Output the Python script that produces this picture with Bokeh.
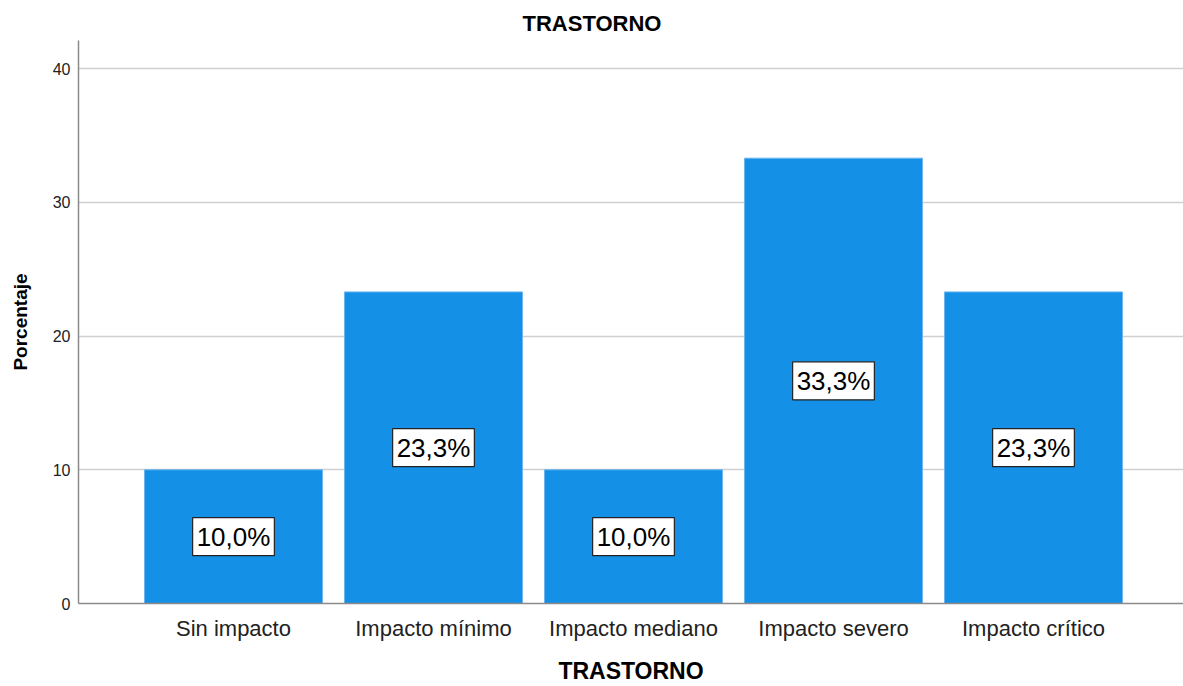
from bokeh.plotting import figure
from bokeh.models import ColumnDataSource, Label, FixedTicker
from bokeh.embed import file_html
from bokeh.resources import INLINE

categories = ["Sin impacto", "Impacto mínimo", "Impacto mediano", "Impacto severo", "Impacto crítico"]
percentages = [10.0, 23.3, 10.0, 33.3, 23.3]
y_ticks = [0, 10, 20, 30, 40]

FONT = "Liberation Sans"
BAR_COLOR = "#1490e6"

xs = list(range(1, len(categories) + 1))
src = ColumnDataSource(dict(x=xs, top=percentages))

p = figure(width=1183, height=686, output_backend="svg", toolbar_location=None,
           x_range=(0.225, 5.75), y_range=(0, 42.1),
           min_border_left=78, min_border_right=0, min_border_top=40, min_border_bottom=82,
           title="TRASTORNO")

# title centred on the whole canvas rather than on the plot frame
p.title.text_font = FONT
p.title.text_font_style = "bold"
p.title.text_font_size = "22px"
p.title.align = "left"
p.title.offset = 444
p.title.standoff = 10
p.title.text_color = "#000000"

p.vbar(x="x", top="top", width=0.89, bottom=0, source=src,
       fill_color=BAR_COLOR, line_color="#6cb6ef", line_width=1)

# boxed value labels in the middle of each bar
for x, v in zip(xs, percentages):
    p.add_layout(Label(x=x, y=v / 2, text=f"{v:.1f}".replace(".", ",") + "%",
                       text_align="center", text_baseline="middle",
                       text_font=FONT, text_font_size="26px", text_color="#000000",
                       background_fill_color="white",
                       border_line_color="#222222", border_line_width=1.2,
                       padding=4))

p.outline_line_color = None
p.background_fill_color = "white"
p.border_fill_color = "white"

p.xgrid.grid_line_color = None
p.ygrid.grid_line_color = "#d0d0d0"
p.ygrid.grid_line_width = 1.5
p.ygrid.ticker = FixedTicker(ticks=y_ticks)

p.yaxis.ticker = FixedTicker(ticks=y_ticks)
p.xaxis.ticker = FixedTicker(ticks=xs)
p.xaxis.major_label_overrides = {x: c for x, c in zip(xs, categories)}

for ax in (p.xaxis[0], p.yaxis[0]):
    ax.axis_line_color = "#8a8a8a"
    ax.axis_line_width = 1.5
    ax.major_tick_line_color = None
    ax.minor_tick_line_color = None
    ax.major_tick_out = 0
    ax.major_tick_in = 0
    ax.major_label_text_font = FONT
    ax.major_label_text_color = "#222222"
    ax.axis_label_text_font = FONT
    ax.axis_label_text_font_style = "bold"
    ax.axis_label_text_color = "#000000"

p.xaxis.major_label_text_font_size = "22px"
p.xaxis.major_label_standoff = 12
p.xaxis.axis_label = "TRASTORNO"
p.xaxis.axis_label_text_font_size = "23px"
p.xaxis.axis_label_standoff = 14

p.yaxis.major_label_text_font_size = "16px"
p.yaxis.major_label_standoff = 8
p.yaxis.axis_label = "Porcentaje"
p.yaxis.axis_label_text_font_size = "19px"
p.yaxis.axis_label_standoff = 19

open("out.html", "w").write(file_html(p, INLINE))
